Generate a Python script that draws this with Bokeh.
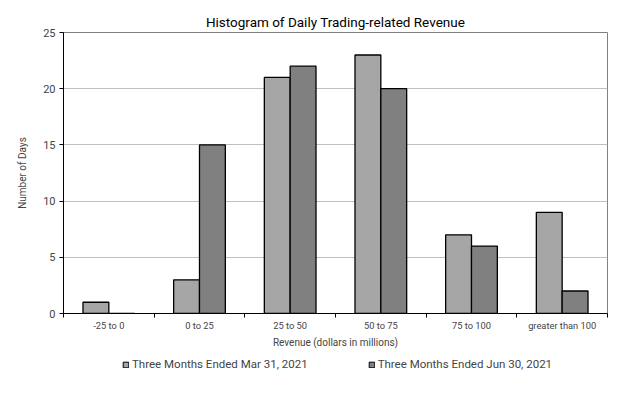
from bokeh.plotting import figure
from bokeh.layouts import column
from bokeh.models import Range1d, FixedTicker, Legend, LegendItem, ColumnDataSource
from bokeh.embed import file_html
from bokeh.resources import INLINE

categories = ["-25 to 0", "0 to 25", "25 to 50", "50 to 75", "75 to 100", "greater than 100"]
mar_2021 = [1, 3, 21, 23, 7, 9]
jun_2021 = [0, 15, 22, 20, 6, 2]
series_names = ["Three Months Ended Mar 31, 2021", "Three Months Ended Jun 30, 2021"]
y_ticks = [0, 5, 10, 15, 20, 25]

FONT = "Roboto"
LIGHT = "#a6a6a6"
DARK = "#808080"
n = len(categories)
bw = 0.285
centers = [i + 0.5 for i in range(n)]

p = figure(width=619, height=353, output_backend="svg", toolbar_location=None,
           x_range=Range1d(0, n), y_range=Range1d(0, 25),
           title="Histogram of Daily Trading-related Revenue",
           min_border_left=63, min_border_right=12, min_border_top=32, min_border_bottom=40)

p.title.align = "center"
p.title.text_font = FONT
p.title.text_font_size = "13.5px"
p.title.text_font_style = "normal"
p.title.text_color = "#000000"
p.title.offset = 0
p.title.standoff = 6

src1 = ColumnDataSource(dict(x=[c - bw / 2 for c in centers], top=mar_2021))
src2 = ColumnDataSource(dict(x=[c + bw / 2 for c in centers], top=jun_2021))
p.vbar(x="x", top="top", width=bw, bottom=0, source=src1,
       fill_color=LIGHT, line_color="#000000", line_width=1.3)
p.vbar(x="x", top="top", width=bw, bottom=0, source=src2,
       fill_color=DARK, line_color="#000000", line_width=1.3)

p.outline_line_color = "#808080"
p.outline_line_width = 1
p.background_fill_color = "white"
p.border_fill_color = "white"

p.xgrid.visible = False
p.ygrid.grid_line_color = "#bfbfbf"
p.ygrid.grid_line_width = 1
p.ygrid.ticker = FixedTicker(ticks=y_ticks)

xa = p.xaxis[0]
xa.ticker = FixedTicker(ticks=centers, minor_ticks=list(range(n + 1)))
xa.major_label_overrides = {c: lab for c, lab in zip(centers, categories)}
xa.major_tick_out = 0
xa.major_tick_in = 0
xa.minor_tick_out = 4
xa.minor_tick_in = 0
xa.minor_tick_line_color = "#000000"
xa.axis_line_color = "#000000"
xa.major_label_text_font = FONT
xa.major_label_text_font_size = "9.3px"
xa.major_label_standoff = 2
xa.axis_label = "Revenue (dollars in millions)"
xa.axis_label_text_font = FONT
xa.axis_label_text_font_size = "10px"
xa.axis_label_text_font_style = "normal"
xa.axis_label_standoff = 3

ya = p.yaxis[0]
ya.ticker = FixedTicker(ticks=y_ticks)
ya.major_tick_out = 4
ya.major_tick_in = 0
ya.minor_tick_out = 0
ya.minor_tick_in = 0
ya.axis_line_color = "#000000"
ya.major_label_text_font = FONT
ya.major_label_text_font_size = "11px"
ya.major_label_standoff = 4
ya.axis_label = "Number of Days"
ya.axis_label_text_font = FONT
ya.axis_label_text_font_size = "10px"
ya.axis_label_text_font_style = "normal"
ya.axis_label_standoff = 12

# legend strip below the chart (swatch bars carry no drawable data)
lf = figure(width=619, height=28, output_backend="svg", toolbar_location=None,
            x_range=Range1d(0, 1), y_range=Range1d(0, 1),
            min_border_left=0, min_border_right=0, min_border_top=0, min_border_bottom=0)
lf.axis.visible = False
lf.grid.visible = False
lf.outline_line_color = None
sw1 = ColumnDataSource(dict(x=[float("nan")], top=[float("nan")]))
sw2 = ColumnDataSource(dict(x=[float("nan")], top=[float("nan")]))
lr1 = lf.vbar(x="x", top="top", width=0.1, source=sw1,
              fill_color=LIGHT, line_color="#000000", line_width=1)
lr2 = lf.vbar(x="x", top="top", width=0.1, source=sw2,
              fill_color=DARK, line_color="#000000", line_width=1)
legend = Legend(items=[LegendItem(label=series_names[0], renderers=[lr1]),
                       LegendItem(label=series_names[1], renderers=[lr2])],
                orientation="horizontal", location=(59, 10),
                spacing=60, glyph_width=7, glyph_height=7,
                label_text_font=FONT, label_text_font_size="11.5px",
                label_standoff=3, border_line_color=None, padding=2, margin=0,
                background_fill_alpha=0)
lf.add_layout(legend, "center")

layout = column(p, lf, spacing=0)
open("out.html", "w").write(file_html(layout, INLINE))
